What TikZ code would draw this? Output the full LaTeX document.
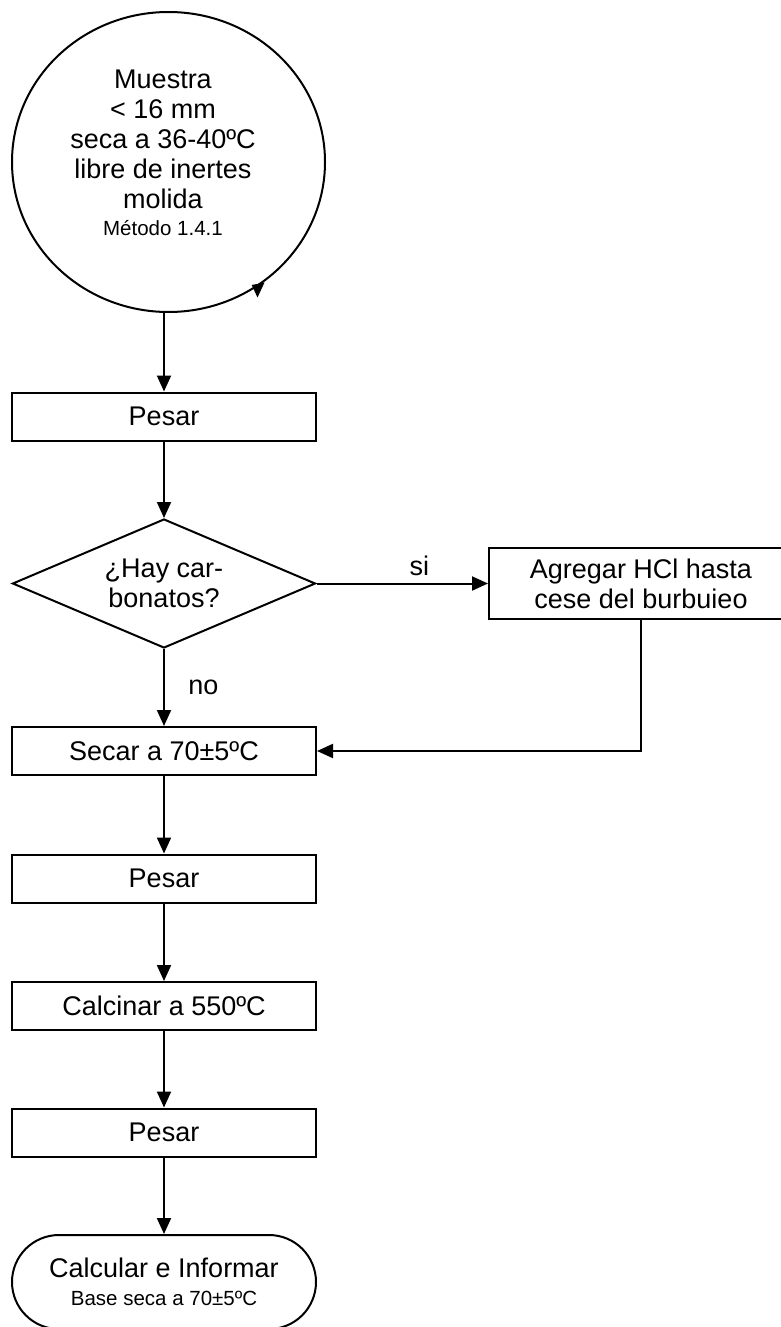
\documentclass[tikz,border=0pt]{standalone}
\usepackage{fontspec}
\setmainfont{Liberation Sans}
\usetikzlibrary{shapes.geometric,arrows.meta}
\tikzset{
  big/.style={font=\fontsize{27}{30}\selectfont},
  lw/.style={line width=2pt},
  proc/.style={draw, lw, rectangle, minimum width=304pt, minimum height=48pt, inner sep=0pt, big, align=center},
  arr/.style={lw, -{Triangle[length=16pt,width=14pt]}},
}
\newcommand{\smalltxt}{\fontsize{20.5}{23}\selectfont}
\begin{document}
\begin{tikzpicture}[x=1pt,y=-1pt]
\useasboundingbox (0,0) rectangle (781,1327);
% start circle
\node[draw, lw, ellipse, minimum width=313pt, minimum height=300pt, inner sep=0pt] (start) at (168.5,162) {};
\node[big, align=center, anchor=north, inner sep=0pt] (starttxt) at (163,70)
  {Muestra\\ < 16 mm\\ seca a 36-40ºC\\ libre de inertes\\ molida\\[-3pt] {\smalltxt Método 1.4.1}};
\fill (251.7,285) -- (264.5,282.5) -- (257.5,297.5) -- cycle;
% boxes
\node[proc] (pesar1) at (164,416.5) {Pesar};
\node[draw, lw, diamond, aspect=2.34, minimum width=303pt, minimum height=129pt, inner sep=0pt, big, align=center] (dec) at (164,583.5) {¿Hay car-\\bonatos?};
\node[proc, minimum height=71pt] (hcl) at (641,583.5) {Agregar HCl hasta\\cese del burbuieo};
\node[proc] (secar) at (164,751) {Secar a 70±5ºC};
\node[proc] (pesar2) at (164,878.5) {Pesar};
\node[proc] (calc) at (164,1006) {Calcinar a 550ºC};
\node[proc] (pesar3) at (164,1132.5) {Pesar};
\node[draw, lw, rectangle, rounded corners=47pt, minimum width=304pt, minimum height=94pt, inner sep=0pt, align=center, big] (fin) at (164,1282)
  {Calcular e Informar\\[-2pt]{\smalltxt Base seca a 70±5ºC}};
% connectors
\draw[arr] (pesar1.north |- start.south) -- (pesar1.north);
\draw[arr] (pesar1.south) -- (dec.north);
\draw[arr] (dec.east) -- node[pos=0.6, above=3pt, big] (si) {si} (hcl.west);
\draw[arr] (dec.south) -- node[midway, right=20pt, big] (no) {no} (secar.north);
\draw[arr] (hcl.south) |- (secar.east);
\draw[arr] (secar.south) -- (pesar2.north);
\draw[arr] (pesar2.south) -- (calc.north);
\draw[arr] (calc.south) -- (pesar3.north);
\draw[arr] (pesar3.south) -- (fin.north);
\end{tikzpicture}
\end{document}
